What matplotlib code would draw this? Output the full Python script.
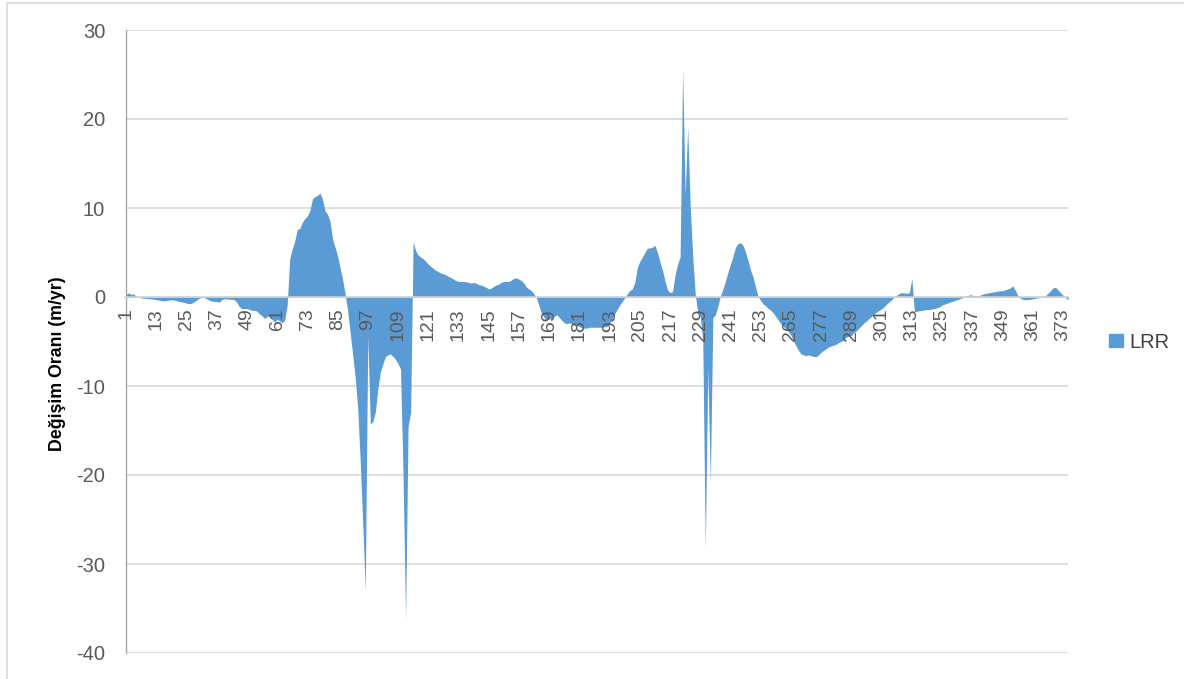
import numpy as np
import matplotlib
matplotlib.use('Agg')
import matplotlib.pyplot as plt
from matplotlib.patches import Patch
from matplotlib.lines import Line2D

plt.rcParams['font.family'] = ['Liberation Sans', 'DejaVu Sans']
plt.rcParams['axes.unicode_minus'] = False

# LRR values, one row per 12 transects (1, 13, 25, ...)
lrr = [
    0.3, 0.45, 0.3, 0.35, 0.1, 0.0, -0.1, -0.15, -0.15, -0.2, -0.2, -0.25,
    -0.3, -0.35, -0.4, -0.45, -0.4, -0.35, -0.3, -0.35, -0.4, -0.5, -0.55, -0.6,
    -0.7, -0.75, -0.7, -0.55, -0.35, -0.15, -0.05, -0.05, -0.2, -0.35, -0.45, -0.5,
    -0.5, -0.6, -0.3, -0.2, -0.2, -0.25, -0.25, -0.3, -0.6, -1.1, -1.3, -1.3,
    -1.3, -1.4, -1.5, -1.5, -1.6, -1.9, -2.1, -2.4, -2.2, -2.1, -2.5, -2.8,
    -2.5, -2.7, -2.9, -2.6, -0.9, 4.3, 5.4, 6.3, 7.6, 7.7, 8.4, 8.8,
    9.1, 9.7, 11.0, 11.3, 11.4, 11.7, 11.0, 9.7, 9.3, 8.5, 6.5, 5.6,
    4.6, 3.3, 2.0, 0.3, -1.5, -4.0, -6.5, -9.0, -12.5, -18.5, -25.5, -33.0,
    -4.5, -14.3, -14.0, -12.9, -10.3, -8.4, -7.5, -6.7, -6.5, -6.4, -6.7, -7.0,
    -7.5, -8.1, -20.0, -36.3, -14.5, -13.0, 6.2, 5.2, 4.7, 4.5, 4.3, 4.0,
    3.7, 3.45, 3.2, 3.0, 2.85, 2.7, 2.6, 2.5, 2.3, 2.2, 2.0, 1.85,
    1.75, 1.75, 1.75, 1.7, 1.65, 1.55, 1.65, 1.55, 1.4, 1.35, 1.2, 1.1,
    0.9, 1.0, 1.2, 1.35, 1.45, 1.65, 1.75, 1.75, 1.75, 1.9, 2.1, 2.15,
    2.0, 1.85, 1.55, 1.1, 0.9, 0.7, 0.35, -0.15, -1.0, -1.9, -2.3, -2.5,
    -2.5, -2.4, -2.2, -2.0, -2.3, -2.6, -2.9, -3.0, -2.9, -3.0, -3.1, -3.2,
    -3.3, -3.5, -3.5, -3.5, -3.4, -3.4, -3.4, -3.4, -3.4, -3.4, -3.35, -3.3,
    -3.0, -2.5, -1.9, -1.4, -0.9, -0.5, -0.1, 0.35, 0.7, 0.9, 1.65, 3.3,
    4.0, 4.5, 5.0, 5.5, 5.5, 5.6, 5.8, 5.0, 3.9, 3.0, 1.8, 0.8,
    0.5, 0.6, 2.5, 3.7, 4.5, 25.6, 11.5, 19.1, 10.3, 4.6, 0.3, -1.7,
    -2.2, -5.0, -28.3, -8.0, -20.8, -2.3, -2.0, -1.0, 0.1, 0.9, 1.8, 2.8,
    3.7, 4.6, 5.6, 6.0, 6.1, 5.8, 5.0, 4.1, 3.0, 2.2, 1.1, 0.0,
    -0.4, -0.8, -1.0, -1.3, -1.5, -1.8, -2.2, -2.6, -3.0, -3.3, -3.6, -3.9,
    -4.3, -4.9, -5.5, -6.0, -6.4, -6.5, -6.6, -6.5, -6.6, -6.7, -6.7, -6.5,
    -6.2, -6.0, -5.8, -5.6, -5.5, -5.4, -5.3, -5.1, -5.0, -4.8, -4.5, -4.4,
    -4.3, -4.0, -3.8, -3.5, -3.2, -2.9, -2.7, -2.4, -2.2, -1.9, -1.7, -1.5,
    -1.35, -1.1, -0.8, -0.55, -0.3, 0.0, 0.2, 0.4, 0.5, 0.45, 0.4, 0.5,
    2.1, -1.65, -1.6, -1.55, -1.5, -1.45, -1.4, -1.4, -1.35, -1.3, -1.2, -1.1,
    -0.9, -0.8, -0.7, -0.6, -0.5, -0.4, -0.3, -0.2, -0.1, 0.0, 0.15, 0.25,
    0.2, 0.15, 0.1, 0.2, 0.3, 0.4, 0.45, 0.5, 0.55, 0.6, 0.65, 0.7,
    0.7, 0.8, 0.9, 1.0, 1.25, 0.8, 0.2, -0.15, -0.25, -0.3, -0.3, -0.25,
    -0.2, -0.15, -0.1, -0.05, 0.0, 0.15, 0.4, 0.7, 1.0, 1.1, 0.8, 0.5,
    0.2, -0.1, -0.3,
]
transects = np.arange(1, len(lrr) + 1)
tick_step = 12
y_ticks = [-40, -30, -20, -10, 0, 10, 20, 30]

blue = '#5B9BD5'
grid_c = '#D9D9D9'
text_c = '#595959'

fig = plt.figure(figsize=(11.84, 6.79), dpi=100)
ax = fig.add_axes([126 / 1184, 1 - 653 / 679, (1068 - 126) / 1184, (653 - 30) / 679])
ax.set_axisbelow(False)  # category labels sit on top of the area, as in Excel

# gridlines (behind the area)
for v in y_ticks:
    if v != 0:
        ax.axhline(v, color=grid_c, lw=1.2, zorder=0)

ax.fill_between(transects, lrr, 0, color=blue, linewidth=0, zorder=1)

ax.set_xlim(1, len(lrr))
ax.set_ylim(-40, 30)

ax.spines['top'].set_visible(False)
ax.spines['right'].set_visible(False)
ax.spines['bottom'].set_position(('data', 0))
ax.spines['bottom'].set_color('#D0D0D0')
ax.spines['bottom'].set_linewidth(1.2)
ax.spines['left'].set_color('#A6A6A6')
ax.spines['left'].set_linewidth(1.0)

ax.set_xticks(transects[::tick_step])
ax.set_xticklabels([str(t) for t in transects[::tick_step]])
ax.tick_params(axis='x', length=0, pad=8, labelrotation=90,
               labelsize=14, labelcolor=text_c)
ax.set_yticks(y_ticks)
ax.tick_params(axis='y', length=0, pad=15, labelsize=14.5, labelcolor=text_c)

fig.text(57 / 1184, 1 - 364 / 679, 'Değişim Oranı (m/yr)', rotation=90,
         ha='center', va='center', fontsize=12.8, fontweight='bold',
         color='#000000')

fig.legend(handles=[Patch(color=blue, label='LRR')], loc='center left',
           bbox_to_anchor=(1091 / 1184, 1 - 342 / 679), frameon=False,
           handlelength=0.68, handleheight=0.68, handletextpad=0.35,
           fontsize=14.5, labelcolor='#404040')

# chart-area border (only the top and left edges are inside the crop)
fig.add_artist(Line2D([7 / 1184, 7 / 1184], [0, 1 - 3 / 679],
                      transform=fig.transFigure, color=grid_c, lw=1.2))
fig.add_artist(Line2D([7 / 1184, 1], [1 - 3 / 679, 1 - 3 / 679],
                      transform=fig.transFigure, color=grid_c, lw=1.2))

fig.savefig('out.png', dpi=100)
